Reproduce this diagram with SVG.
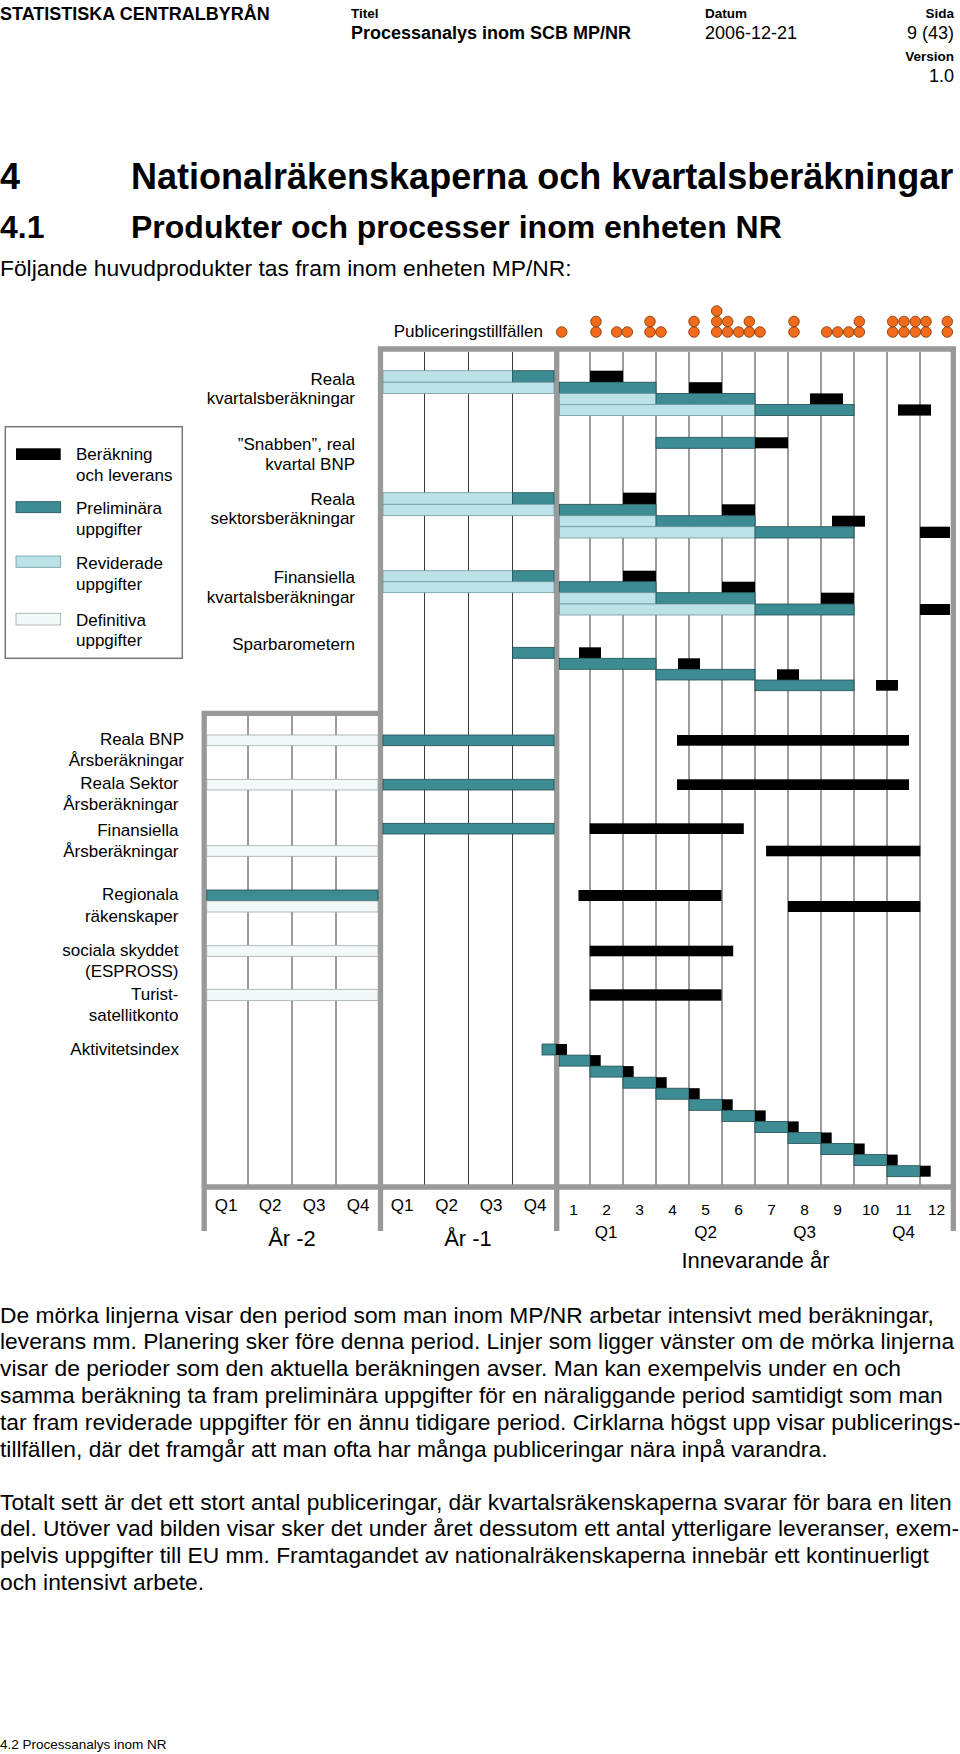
<svg xmlns="http://www.w3.org/2000/svg" width="960" height="1754" viewBox="0 0 960 1754">
<style>
text{font-family:"Liberation Sans",Arial,sans-serif;fill:#000}
.hb{font-weight:bold}
.sm{font-size:13.5px;font-weight:bold}
.hd{font-size:18px}
.lb{font-size:17px;text-anchor:end}
.lg{font-size:17px}
.body{font-size:22.8px}
.ax{font-size:17px;text-anchor:middle}
.mn{font-size:15.5px;text-anchor:middle}
.yr{font-size:22px;text-anchor:middle}
.teal{fill:#3e8c93;stroke:#1e4e52;stroke-width:0.8}
.lite{fill:#bce2e7;stroke:#6e9aa0;stroke-width:0.8}
.defn{fill:#f3f8f8;stroke:#a0a8a8;stroke-width:0.8}
.blk{fill:#000}
.dot{fill:#f26b1b;stroke:#7a3406;stroke-width:0.8}
.grid{stroke:#3a3a3a;stroke-width:1;fill:none}
.frame{stroke:#999;stroke-width:5.3;fill:none}
</style>
<rect width="960" height="1754" fill="#fff"/>

<g id="header">
<text class="hb" x="0" y="20" font-size="18">STATISTISKA CENTRALBYRÅN</text>
<text class="sm" x="351" y="18">Titel</text>
<text class="hd hb" x="351" y="39">Processanalys inom SCB MP/NR</text>
<text class="sm" x="705" y="18">Datum</text>
<text class="hd" x="705" y="39">2006-12-21</text>
<text class="sm" x="954" y="18" text-anchor="end">Sida</text>
<text class="hd" x="954" y="39" text-anchor="end">9 (43)</text>
<text class="sm" x="954" y="61" text-anchor="end">Version</text>
<text class="hd" x="954" y="82" text-anchor="end">1.0</text>
</g>

<g id="headings">
<text class="hb" x="0" y="189" font-size="36">4</text>
<text class="hb" x="131" y="189" font-size="36">Nationalräkenskaperna och kvartalsberäkningar</text>
<text class="hb" x="0" y="238" font-size="32">4.1</text>
<text class="hb" x="131" y="238" font-size="32">Produkter och processer inom enheten NR</text>
<text class="body" x="0" y="276">Följande huvudprodukter tas fram inom enheten MP/NR:</text>
</g>

<g id="legend">
<rect x="5.3" y="426.7" width="177" height="231.6" fill="#fff" stroke="#777" stroke-width="1.5"/>
<rect class="blk" x="16" y="448.3" width="44.7" height="11.7"/>
<rect class="teal" x="16" y="501.7" width="44.7" height="11"/>
<rect class="lite" x="16" y="556" width="44.7" height="11.3"/>
<rect class="defn" x="16" y="613.3" width="44.7" height="11.7" stroke="#666"/>
<text class="lg" x="76" y="460">Beräkning</text>
<text class="lg" x="76" y="481">och leverans</text>
<text class="lg" x="76" y="514">Preliminära</text>
<text class="lg" x="76" y="535">uppgifter</text>
<text class="lg" x="76" y="569">Reviderade</text>
<text class="lg" x="76" y="590">uppgifter</text>
<text class="lg" x="76" y="626">Definitiva</text>
<text class="lg" x="76" y="646">uppgifter</text>
</g>

<g id="publiceringar">
<text class="lg" x="543" y="337" text-anchor="end">Publiceringstillfällen</text>
<g>
<circle class="dot" cx="561.7" cy="332" r="5.3"/>
<circle class="dot" cx="596" cy="332" r="5.3"/><circle class="dot" cx="596" cy="321.5" r="5.3"/>
<circle class="dot" cx="616.7" cy="332" r="5.3"/>
<circle class="dot" cx="627.3" cy="332" r="5.3"/>
<circle class="dot" cx="650" cy="332" r="5.3"/><circle class="dot" cx="650" cy="321.5" r="5.3"/>
<circle class="dot" cx="661" cy="332" r="5.3"/>
<circle class="dot" cx="694" cy="332" r="5.3"/><circle class="dot" cx="694" cy="321.5" r="5.3"/>
<circle class="dot" cx="716.7" cy="332" r="5.3"/><circle class="dot" cx="716.7" cy="321.5" r="5.3"/><circle class="dot" cx="716.7" cy="311" r="5.3"/>
<circle class="dot" cx="727.7" cy="332" r="5.3"/><circle class="dot" cx="727.7" cy="321.5" r="5.3"/>
<circle class="dot" cx="738.7" cy="332" r="5.3"/>
<circle class="dot" cx="749.3" cy="332" r="5.3"/><circle class="dot" cx="749.3" cy="321.5" r="5.3"/>
<circle class="dot" cx="760" cy="332" r="5.3"/>
<circle class="dot" cx="794" cy="332" r="5.3"/><circle class="dot" cx="794" cy="321.5" r="5.3"/>
<circle class="dot" cx="826.7" cy="332" r="5.3"/>
<circle class="dot" cx="837.7" cy="332" r="5.3"/>
<circle class="dot" cx="848.7" cy="332" r="5.3"/>
<circle class="dot" cx="859.3" cy="332" r="5.3"/><circle class="dot" cx="859.3" cy="321.5" r="5.3"/>
<circle class="dot" cx="892.7" cy="332" r="5.3"/><circle class="dot" cx="892.7" cy="321.5" r="5.3"/>
<circle class="dot" cx="904" cy="332" r="5.3"/><circle class="dot" cx="904" cy="321.5" r="5.3"/>
<circle class="dot" cx="915.3" cy="332" r="5.3"/><circle class="dot" cx="915.3" cy="321.5" r="5.3"/>
<circle class="dot" cx="926" cy="332" r="5.3"/><circle class="dot" cx="926" cy="321.5" r="5.3"/>
<circle class="dot" cx="947.3" cy="332" r="5.3"/><circle class="dot" cx="947.3" cy="321.5" r="5.3"/>
</g>
</g>

<g id="grid">
<path class="grid" d="M248 716V1185M292 716V1185M336 716V1185M424.5 352V1185M468.5 352V1185M512.5 352V1185M590 352V1185M623 352V1185M656 352V1185M689 352V1185M722 352V1185M755 352V1185M788 352V1185M821 352V1185M854 352V1185M887 352V1185M920 352V1185"/>
<path class="frame" d="M377.8 349H956M380.5 349V1231M556.7 349V1231M953.3 349V1231M201.5 713.3H380.5M204.2 713.3V1231M201.5 1187H956"/>
</g>

<g id="reala-kvartal">
<text class="lb" x="355" y="384.5">Reala</text>
<text class="lb" x="355" y="404">kvartalsberäkningar</text>
<rect class="lite" x="383" y="370.7" width="129.5" height="11.5"/>
<rect class="teal" x="512.5" y="370.7" width="41.5" height="11.5"/>
<rect class="blk" x="590" y="370.7" width="33" height="11.5"/>
<rect class="lite" x="383" y="382.2" width="171" height="11.2"/>
<rect class="teal" x="559.5" y="382.2" width="96.5" height="11.2"/>
<rect class="blk" x="689" y="382.2" width="33" height="11.2"/>
<rect class="lite" x="559.5" y="393.4" width="96.5" height="11"/>
<rect class="teal" x="656" y="393.4" width="99" height="11"/>
<rect class="blk" x="810" y="393.4" width="33" height="11"/>
<rect class="lite" x="559.5" y="404.4" width="195.5" height="11.2"/>
<rect class="teal" x="755" y="404.4" width="99" height="11.2"/>
<rect class="blk" x="898" y="404.4" width="33" height="11.2"/>
</g>

<g id="snabben">
<text class="lb" x="355" y="450">”Snabben”, real</text>
<text class="lb" x="355" y="470">kvartal BNP</text>
<rect class="teal" x="656" y="437.3" width="99" height="11"/>
<rect class="blk" x="755" y="437.3" width="33" height="11"/>
</g>

<g id="reala-sektor">
<text class="lb" x="355" y="505">Reala</text>
<text class="lb" x="355" y="524">sektorsberäkningar</text>
<rect class="lite" x="383" y="492.7" width="129.5" height="11.6"/>
<rect class="teal" x="512.5" y="492.7" width="41.5" height="11.6"/>
<rect class="blk" x="623" y="492.7" width="33" height="11.6"/>
<rect class="lite" x="383" y="504.3" width="171" height="11.4"/>
<rect class="teal" x="559.5" y="504.3" width="96.5" height="11.4"/>
<rect class="blk" x="722" y="504.3" width="33" height="11.4"/>
<rect class="lite" x="559.5" y="515.7" width="96.5" height="11"/>
<rect class="teal" x="656" y="515.7" width="99" height="11"/>
<rect class="blk" x="832" y="515.7" width="33" height="11"/>
<rect class="lite" x="559.5" y="526.7" width="195.5" height="11.3"/>
<rect class="teal" x="755" y="526.7" width="99" height="11.3"/>
<rect class="blk" x="920" y="526.7" width="30" height="11.3"/>
</g>

<g id="finansiella-kvartal">
<text class="lb" x="355" y="583">Finansiella</text>
<text class="lb" x="355" y="603">kvartalsberäkningar</text>
<rect class="lite" x="383" y="570.7" width="129.5" height="11"/>
<rect class="teal" x="512.5" y="570.7" width="41.5" height="11"/>
<rect class="blk" x="623" y="570.7" width="33" height="11"/>
<rect class="lite" x="383" y="581.7" width="171" height="11"/>
<rect class="teal" x="559.5" y="581.7" width="96.5" height="11"/>
<rect class="blk" x="722" y="581.7" width="33" height="11"/>
<rect class="lite" x="559.5" y="592.7" width="96.5" height="11.3"/>
<rect class="teal" x="656" y="592.7" width="99" height="11.3"/>
<rect class="blk" x="821" y="592.7" width="33" height="11.3"/>
<rect class="lite" x="559.5" y="604" width="195.5" height="11"/>
<rect class="teal" x="755" y="604" width="99" height="11"/>
<rect class="blk" x="920" y="604" width="30" height="11"/>
</g>

<g id="sparbarometern">
<text class="lb" x="355" y="650">Sparbarometern</text>
<rect class="teal" x="512.5" y="647.3" width="41.5" height="11"/>
<rect class="blk" x="579" y="647.3" width="22" height="11"/>
<rect class="teal" x="559.5" y="658.3" width="96.5" height="11"/>
<rect class="blk" x="678" y="658.3" width="22" height="11"/>
<rect class="teal" x="656" y="669.3" width="99" height="10.7"/>
<rect class="blk" x="777" y="669.3" width="22" height="10.7"/>
<rect class="teal" x="755" y="680" width="99" height="10.7"/>
<rect class="blk" x="876" y="680" width="22" height="10.7"/>
</g>

<g id="reala-bnp-ar">
<text class="lb" x="184" y="745">Reala BNP</text>
<text class="lb" x="184" y="765.5">Årsberäkningar</text>
<rect class="defn" x="206.8" y="735" width="171.2" height="10.7"/>
<rect class="teal" x="383" y="735" width="171" height="10.7"/>
<rect class="blk" x="677" y="735" width="232" height="10.7"/>
</g>

<g id="reala-sektor-ar">
<text class="lb" x="178.5" y="789">Reala Sektor</text>
<text class="lb" x="178.5" y="810">Årsberäkningar</text>
<rect class="defn" x="206.8" y="779.3" width="171.2" height="10.7"/>
<rect class="teal" x="383" y="779.3" width="171" height="10.7"/>
<rect class="blk" x="677" y="779.3" width="232" height="10.7"/>
</g>

<g id="finansiella-ar">
<text class="lb" x="178.5" y="836">Finansiella</text>
<text class="lb" x="178.5" y="857">Årsberäkningar</text>
<rect class="teal" x="383" y="823.3" width="171" height="10.7"/>
<rect class="blk" x="589.7" y="823.3" width="154.1" height="10.7"/>
<rect class="defn" x="206.8" y="845.7" width="171.2" height="10.6"/>
<rect class="blk" x="766.1" y="845.7" width="154.2" height="10.6"/>
</g>

<g id="regionala">
<text class="lb" x="178.5" y="900">Regionala</text>
<text class="lb" x="178.5" y="921.5">räkenskaper</text>
<rect class="teal" x="206.8" y="890" width="171.2" height="11"/>
<rect class="defn" x="206.8" y="901" width="171.2" height="11"/>
<rect class="blk" x="578.5" y="890" width="143" height="11"/>
<rect class="blk" x="788" y="901" width="132.3" height="11"/>
</g>

<g id="espross">
<text class="lb" x="178.5" y="956">sociala skyddet</text>
<text class="lb" x="178.5" y="977">(ESPROSS)</text>
<rect class="defn" x="206.8" y="945.7" width="171.2" height="10.6"/>
<rect class="blk" x="589.7" y="945.7" width="143.5" height="10.6"/>
</g>

<g id="turist">
<text class="lb" x="178.5" y="1000">Turist-</text>
<text class="lb" x="178.5" y="1020.5">satellitkonto</text>
<rect class="defn" x="206.8" y="989.3" width="171.2" height="11.4"/>
<rect class="blk" x="589.7" y="989.3" width="131.8" height="11.4"/>
</g>

<g id="aktivitetsindex">
<text class="lb" x="179" y="1055">Aktivitetsindex</text>
<rect class="teal" x="542" y="1044" width="14" height="11"/>
<rect class="blk" x="556" y="1044" width="11" height="11"/>
<rect class="teal" x="559.5" y="1055.1" width="30.5" height="11"/><rect class="blk" x="590" y="1055.1" width="10.7" height="11"/>
<rect class="teal" x="590" y="1066.1" width="33" height="11"/><rect class="blk" x="623" y="1066.1" width="10.7" height="11"/>
<rect class="teal" x="623" y="1077.2" width="33" height="11"/><rect class="blk" x="656" y="1077.2" width="10.7" height="11"/>
<rect class="teal" x="656" y="1088.2" width="33" height="11"/><rect class="blk" x="689" y="1088.2" width="10.7" height="11"/>
<rect class="teal" x="689" y="1099.3" width="33" height="11"/><rect class="blk" x="722" y="1099.3" width="10.7" height="11"/>
<rect class="teal" x="722" y="1110.4" width="33" height="11"/><rect class="blk" x="755" y="1110.4" width="10.7" height="11"/>
<rect class="teal" x="755" y="1121.4" width="33" height="11"/><rect class="blk" x="788" y="1121.4" width="10.7" height="11"/>
<rect class="teal" x="788" y="1132.5" width="33" height="11"/><rect class="blk" x="821" y="1132.5" width="10.7" height="11"/>
<rect class="teal" x="821" y="1143.5" width="33" height="11"/><rect class="blk" x="854" y="1143.5" width="10.7" height="11"/>
<rect class="teal" x="854" y="1154.6" width="33" height="11"/><rect class="blk" x="887" y="1154.6" width="10.7" height="11"/>
<rect class="teal" x="887" y="1165.7" width="33" height="11"/><rect class="blk" x="920" y="1165.7" width="10.7" height="11"/>
</g>

<g id="axis">
<text class="ax" x="226" y="1211">Q1</text>
<text class="ax" x="270" y="1211">Q2</text>
<text class="ax" x="314" y="1211">Q3</text>
<text class="ax" x="358" y="1211">Q4</text>
<text class="ax" x="402" y="1211">Q1</text>
<text class="ax" x="446.5" y="1211">Q2</text>
<text class="ax" x="491" y="1211">Q3</text>
<text class="ax" x="535" y="1211">Q4</text>
<text class="yr" x="292" y="1246">År -2</text>
<text class="yr" x="468" y="1246">År -1</text>
<text class="mn" x="573.5" y="1215">1</text>
<text class="mn" x="606.5" y="1215">2</text>
<text class="mn" x="639.5" y="1215">3</text>
<text class="mn" x="672.5" y="1215">4</text>
<text class="mn" x="705.5" y="1215">5</text>
<text class="mn" x="738.5" y="1215">6</text>
<text class="mn" x="771.5" y="1215">7</text>
<text class="mn" x="804.5" y="1215">8</text>
<text class="mn" x="837.5" y="1215">9</text>
<text class="mn" x="870.5" y="1215">10</text>
<text class="mn" x="903.5" y="1215">11</text>
<text class="mn" x="936.5" y="1215">12</text>
<text class="ax" x="606" y="1238">Q1</text>
<text class="ax" x="705.5" y="1238">Q2</text>
<text class="ax" x="804.5" y="1238">Q3</text>
<text class="ax" x="903.5" y="1238">Q4</text>
<text class="yr" x="755.5" y="1268" font-size="23">Innevarande år</text>
</g>

<g id="text">
<text class="body" x="0" y="1322.5">De mörka linjerna visar den period som man inom MP/NR arbetar intensivt med beräkningar,</text>
<text class="body" x="0" y="1349.4">leverans mm. Planering sker före denna period. Linjer som ligger vänster om de mörka linjerna</text>
<text class="body" x="0" y="1376.2">visar de perioder som den aktuella beräkningen avser. Man kan exempelvis under en och</text>
<text class="body" x="0" y="1403.1">samma beräkning ta fram preliminära uppgifter för en näraliggande period samtidigt som man</text>
<text class="body" x="0" y="1429.9">tar fram reviderade uppgifter för en ännu tidigare period. Cirklarna högst upp visar publicerings-</text>
<text class="body" x="0" y="1456.8">tillfällen, där det framgår att man ofta har många publiceringar nära inpå varandra.</text>
<text class="body" x="0" y="1509.6">Totalt sett är det ett stort antal publiceringar, där kvartalsräkenskaperna svarar för bara en liten</text>
<text class="body" x="0" y="1536.4">del. Utöver vad bilden visar sker det under året dessutom ett antal ytterligare leveranser, exem-</text>
<text class="body" x="0" y="1563.2">pelvis uppgifter till EU mm. Framtagandet av nationalräkenskaperna innebär ett kontinuerligt</text>
<text class="body" x="0" y="1590">och intensivt arbete.</text>
<text x="0" y="1749" font-size="13.5">4.2 Processanalys inom NR</text>
</g>
</svg>
